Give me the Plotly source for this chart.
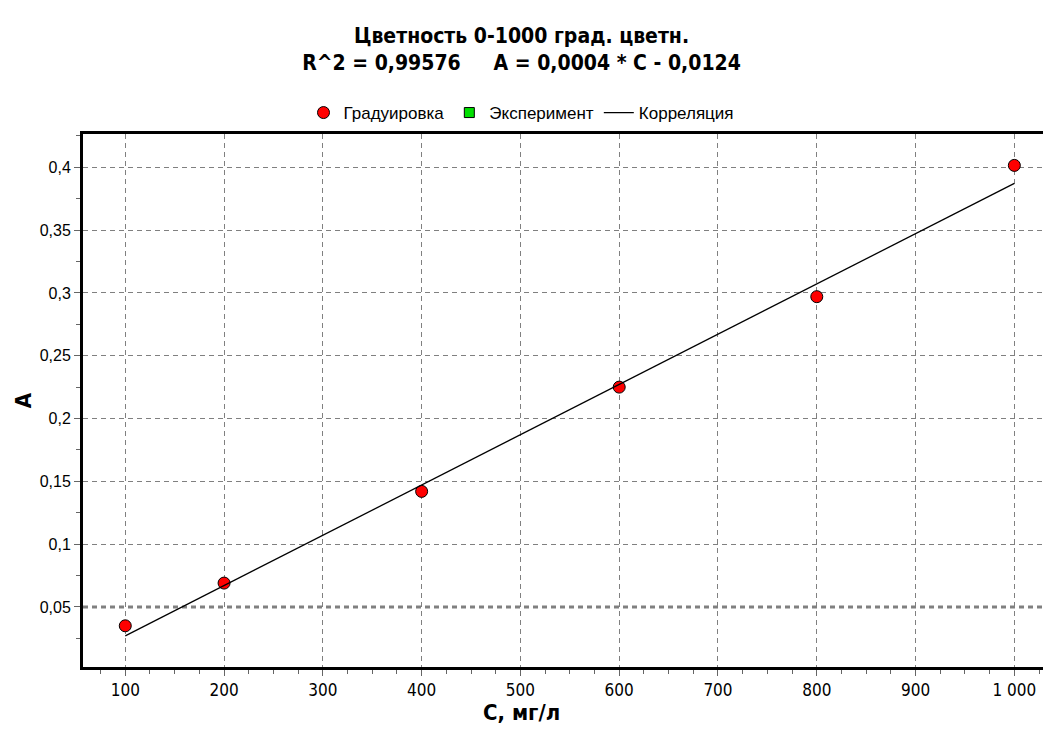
import plotly.graph_objects as go

# Calibration points (Градуировка)
conc = [100, 200, 400, 600, 800, 1000]
absorb = [0.035, 0.069, 0.142, 0.225, 0.297, 0.4015]

# Experiment series (no points in the reference)
exp_conc = [None]
exp_absorb = [None]

# Correlation line endpoints
corr_conc = [100, 1000]
corr_absorb = [0.0270, 0.3872]

ref_level = 0.05

title_line1 = "Цветность 0-1000 град. цветн."
title_line2 = "R^2 = 0,99576&nbsp;&nbsp;&nbsp;&nbsp;&nbsp;A = 0,0004 * C - 0,0124"
x_title = "С, мг/л"
y_title = "A"

FONT = "DejaVu Sans Condensed, Liberation Sans, Arial"
FONT_REG = "Liberation Sans, Arial"

fig = go.Figure()
fig.add_trace(go.Scatter(
    x=conc, y=absorb, mode="markers", name="Градуировка",
    marker=dict(symbol="circle", size=12, color="#FF0000",
                line=dict(color="black", width=1)),
))
fig.add_trace(go.Scatter(
    x=exp_conc, y=exp_absorb, mode="markers", name="Эксперимент",
    marker=dict(symbol="square", size=10, color="#00E000",
                line=dict(color="black", width=1)),
))
fig.add_trace(go.Scatter(
    x=corr_conc, y=corr_absorb, mode="lines", name="Корреляция",
    line=dict(color="black", width=1.3),
))

fig.add_shape(type="line", xref="paper", x0=0, x1=1, yref="y",
              y0=ref_level, y1=ref_level,
              line=dict(color="#808080", width=3, dash="5px,4px"), layer="below")

fig.add_annotation(
    text=f"<b>{x_title}</b>", xref="paper", yref="paper",
    x=(521 - 83) / 960, y=-(712 - 667) / 533, xanchor="center", yanchor="middle",
    showarrow=False, font=dict(family=FONT, size=22, color="black"),
)

fig.update_layout(
    width=1043, height=738,
    paper_bgcolor="white", plot_bgcolor="white",
    margin=dict(l=83, r=0, t=134, b=71),
    separators=", ",
    title=dict(
        text=f"<b>{title_line1}<br>{title_line2}</b>",
        x=0.5, xref="container", xanchor="center",
        y=1 - 43 / 738, yref="container", yanchor="top",
        font=dict(family=FONT, size=21, color="black"),
    ),
    showlegend=True,
    legend=dict(
        orientation="h", x=0.5, xanchor="center", xref="container",
        y=1 - 113 / 738, yanchor="middle", yref="container",
        font=dict(family=FONT_REG, size=17, color="black"),
        itemwidth=30, tracegroupgap=0,
        bgcolor="rgba(0,0,0,0)",
    ),
    font=dict(family=FONT_REG, size=14, color="black"),
)

fig.update_xaxes(
    range=[57.2, 1029],
    tickvals=[100, 200, 300, 400, 500, 600, 700, 800, 900, 1000],
    tickformat=",d",
    showline=True, linecolor="black", linewidth=3, mirror=True,
    ticks="outside", ticklen=6, tickcolor="#666666", tickwidth=1,
    showgrid=True, gridcolor="#808080", gridwidth=1, griddash="5px,4px",
    zeroline=False,
    tickfont=dict(family=FONT, size=17, color="black"),
    minor=dict(dtick=25, tick0=0, ticks="outside", ticklen=4,
               tickcolor="#666666", showgrid=False),
)
fig.update_yaxes(
    range=[0.0022, 0.4265],
    tickvals=[0.05, 0.1, 0.15, 0.2, 0.25, 0.3, 0.35, 0.4],
    showline=True, linecolor="black", linewidth=3, mirror=False,
    ticks="outside", ticklen=6, tickcolor="#666666", tickwidth=1,
    showgrid=True, gridcolor="#808080", gridwidth=1, griddash="5px,4px",
    zeroline=False,
    tickfont=dict(family=FONT_REG, size=16, color="black"),
    minor=dict(dtick=0.025, tick0=0, ticks="outside", ticklen=4,
               tickcolor="#666666", showgrid=False),
    title=dict(text=f"<b>{y_title}</b>", font=dict(family=FONT, size=22, color="black"),
               standoff=2),
)

fig.write_html("out.html")
